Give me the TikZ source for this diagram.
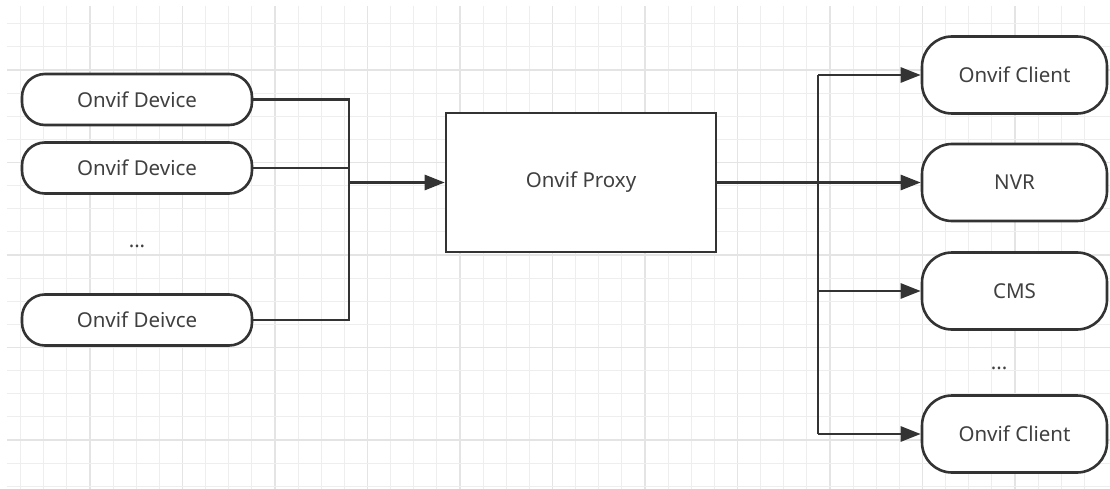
\documentclass[tikz,border=0pt]{standalone}
\usepackage{fontspec}
\setmainfont{Noto Sans}
\usetikzlibrary{arrows.meta}
\definecolor{ln}{HTML}{333333}
\definecolor{tx}{HTML}{404040}
\definecolor{gmin}{HTML}{EEEEEE}
\definecolor{gmaj}{HTML}{E4E4E4}
\begin{document}
\begin{tikzpicture}[x=1pt,y=-1pt,
  lbl/.style={font=\fontsize{20.5}{24}\selectfont, text=tx},
  dev/.style={lbl, draw=ln, line width=2.6pt, rounded corners=23pt, fill=white, minimum width=230pt, minimum height=51pt, inner sep=0pt},
  cli/.style={lbl, draw=ln, line width=2.6pt, rounded corners=30pt, fill=white, minimum width=185pt, minimum height=77pt, inner sep=0pt},
  box/.style={lbl, draw=ln, line width=2.6pt, fill=white, minimum width=270pt, minimum height=139pt, inner sep=0pt},
  conn/.style={draw=ln, line width=2.6pt},
  arr/.style={conn, -{Triangle[length=20pt,width=15pt]}}]
\useasboundingbox (0,0) rectangle (1110,489);
\fill[white] (0,0) rectangle (1110,489);
% grid
\foreach \k in {0,...,46} {
  \pgfmathsetmacro{\gx}{20.6+23.125*\k}
  \pgfmathtruncatemacro{\mj}{mod(\k+1,4)==0 ? 1 : 0}
  \ifnum\mj=1 \draw[gmaj, line width=1.2pt] (\gx,6) -- (\gx,489);
  \else \draw[gmin, line width=1pt] (\gx,6) -- (\gx,489); \fi
}
\foreach \k in {0,...,20} {
  \pgfmathsetmacro{\gy}{23.75+23.125*\k}
  \pgfmathtruncatemacro{\mj}{mod(\k+2,4)==0 ? 1 : 0}
  \ifnum\mj=1 \draw[gmaj, line width=1.2pt] (7,\gy) -- (1110,\gy);
  \else \draw[gmin, line width=1pt] (7,\gy) -- (1110,\gy); \fi
}
% nodes
\node[dev] (d1) at (137,99.5) {Onvif Device};
\node[dev] (d2) at (137,168) {Onvif Device};
\node[lbl] (ld) at (137,246) {...};
\node[dev] (d3) at (137,320) {Onvif Deivce};
\node[box] (proxy) at (581,182.5) {Onvif Proxy};
\node[cli] (c1) at (1014.5,75) {Onvif Client};
\node[cli] (nvr) at (1014.5,182.5) {NVR};
\node[cli] (cms) at (1014.5,291) {CMS};
\node[lbl] (rd) at (999,368) {...};
\node[cli] (c2) at (1014.5,434) {Onvif Client};
% connectors
\coordinate (lx) at (349,0);
\coordinate (rx) at (818,0);
\draw[conn] (d1.east) -- (d1.east -| lx) -- (d3.east -| lx) -- (d3.east);
\draw[conn] (d2.east) -- (d2.east -| lx);
\draw[arr] (proxy.west -| lx) -- (proxy.west);
\draw[arr] (proxy.east) -- (nvr.west);
\draw[conn] (c1.west -| rx) -- (c2.west -| rx);
\draw[arr] (c1.west -| rx) -- (c1.west);
\draw[arr] (cms.west -| rx) -- (cms.west);
\draw[arr] (c2.west -| rx) -- (c2.west);
\end{tikzpicture}
\end{document}
